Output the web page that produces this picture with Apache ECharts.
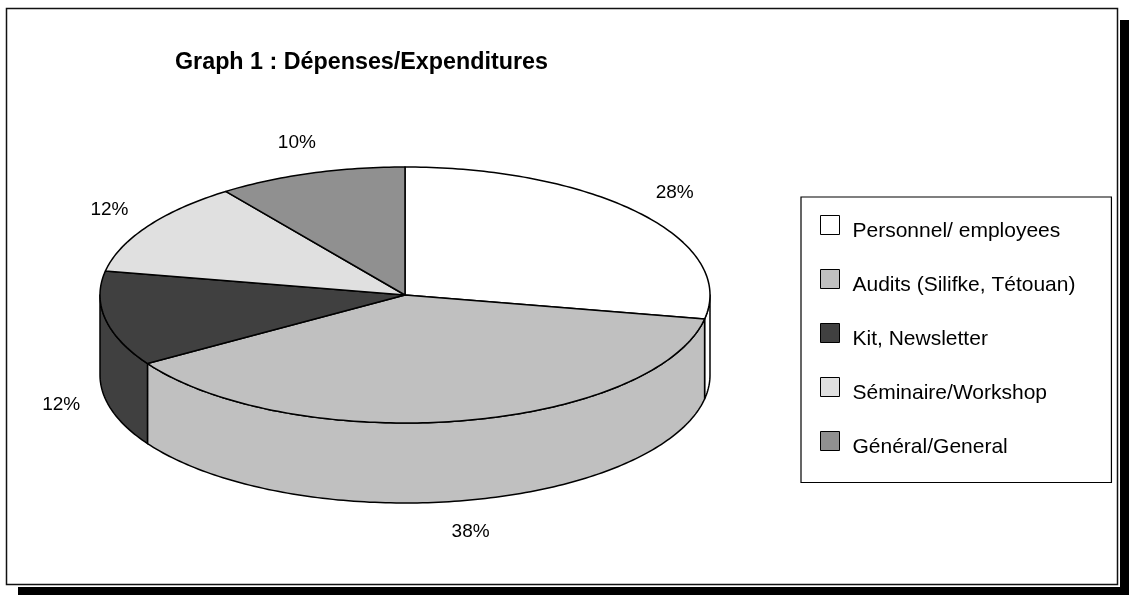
<!DOCTYPE html>
<html>
<head>
<meta charset="utf-8">
<script src="https://cdn.jsdelivr.net/npm/echarts@6/dist/echarts.min.js"></script>
<style>html,body{margin:0;padding:0;background:#fff}#c{width:1129px;height:595px}</style>
</head>
<body>
<div id="c"></div>
<script>
// ---- data ----
const categories = ['Personnel/ employees', 'Audits (Silifke, Tétouan)', 'Kit, Newsletter', 'Séminaire/Workshop', 'Général/General'];
const values = [28, 38, 12, 12, 10];
const sliceColors = ['#ffffff', '#c0c0c0', '#404040', '#e0e0e0', '#909090'];
const titleText = 'Graph 1 : Dépenses/Expenditures';

// ---- layout ----
const PIE = { cx: 405, cy: 295, rx: 305, ry: 128, depth: 80 };
const FONT = '"Liberation Sans", Arial, sans-serif';
const total = values.reduce((a, b) => a + b, 0);

function range(i) {
  let before = 0;
  for (let k = 0; k < i; k++) before += values[k];
  return [before / total * Math.PI * 2, (before + values[i]) / total * Math.PI * 2];
}
function pt(t, dz) {
  return [PIE.cx + PIE.rx * Math.sin(t), PIE.cy - PIE.ry * Math.cos(t) + (dz || 0)];
}
function arcPoints(a, b, dz) {
  const n = Math.max(2, Math.ceil((b - a) / (Math.PI / 180)));
  const out = [];
  for (let k = 0; k <= n; k++) out.push(pt(a + (b - a) * k / n, dz));
  return out;
}

function renderSide(params, api) {
  const i = params.dataIndex;
  const [a0, a1] = range(i);
  const s = Math.max(a0, Math.PI / 2), e = Math.min(a1, Math.PI * 1.5);
  if (s >= e) return { type: 'group', children: [] };
  const top = arcPoints(s, e, 0);
  const bottom = arcPoints(s, e, PIE.depth).reverse();
  return {
    type: 'polygon',
    shape: { points: top.concat(bottom) },
    style: { fill: sliceColors[i], stroke: '#000', lineWidth: 1.5, lineJoin: 'round' }
  };
}

function renderTop(params, api) {
  const i = params.dataIndex;
  const [a0, a1] = range(i);
  const pts = [[PIE.cx, PIE.cy]].concat(arcPoints(a0, a1, 0));
  const mid = (a0 + a1) / 2;
  const lx = PIE.cx + (PIE.rx + 45) * Math.sin(mid);
  const ly = PIE.cy - (PIE.ry + 32) * Math.cos(mid) + (Math.cos(mid) < 0 ? PIE.depth : 0);
  const pct = Math.round(values[i] / total * 100) + '%';
  return {
    type: 'group',
    children: [
      { type: 'polygon', shape: { points: pts },
        style: { fill: sliceColors[i], stroke: '#000', lineWidth: 1.5, lineJoin: 'round' } },
      { type: 'text', x: lx, y: ly,
        style: { text: pct, align: 'center', verticalAlign: 'middle', fill: '#000',
                 font: '19px ' + FONT } }
    ]
  };
}

const seriesData = values.map((v, i) => ({ name: categories[i], value: v }));

const chart = echarts.init(document.getElementById('c'), null, { renderer: 'canvas' });
chart.setOption({
  animation: false,
  backgroundColor: '#fff',
  title: {
    text: titleText, left: 175, top: 51, padding: 0,
    textStyle: { fontFamily: FONT, fontWeight: 'bold', fontSize: 23.3, color: '#000' }
  },
  graphic: [
    { type: 'rect', z: -10, shape: { x: 18, y: 20, width: 1120, height: 580 }, style: { fill: '#000' } },
    { type: 'rect', z: -9, shape: { x: 4, y: 6, width: 1116, height: 581 }, style: { fill: '#fff' } },
    { type: 'rect', z: -8, shape: { x: 6.5, y: 8.5, width: 1111, height: 576 },
      style: { fill: '#fff', stroke: '#111', lineWidth: 1.5 } }
  ],
  legend: {
    orient: 'vertical', left: 801, top: 197,
    selectedMode: false,
    padding: [18, 36, 25, 19],
    itemWidth: 19, itemHeight: 19, itemGap: 27.5,
    icon: 'rect',
    borderColor: '#000', borderWidth: 1.2,
    itemStyle: { borderColor: '#000', borderWidth: 1 },
    formatter: name => '{t|' + name + '}',
    textStyle: {
      fontFamily: FONT, fontSize: 21, color: '#000', padding: [0, 0, 0, 8],
      rich: { t: { fontFamily: FONT, fontSize: 21, color: '#000', padding: [12, 0, 0, 0] } }
    },
    data: categories
  },
  series: [
    { type: 'custom', name: 'sides', coordinateSystem: 'none', z: 2, silent: true,
      renderItem: renderSide, data: seriesData },
    { type: 'custom', name: 'tops', coordinateSystem: 'none', z: 3, silent: true,
      renderItem: renderTop, data: seriesData },
    { type: 'pie', name: 'legendSource', radius: [0, 0], center: [-100, -100], silent: true,
      label: { show: false }, labelLine: { show: false },
      data: values.map((v, i) => ({ name: categories[i], value: v,
        itemStyle: { color: sliceColors[i], borderColor: '#000', borderWidth: 1 } })) }
  ]
});
</script>
</body>
</html>
